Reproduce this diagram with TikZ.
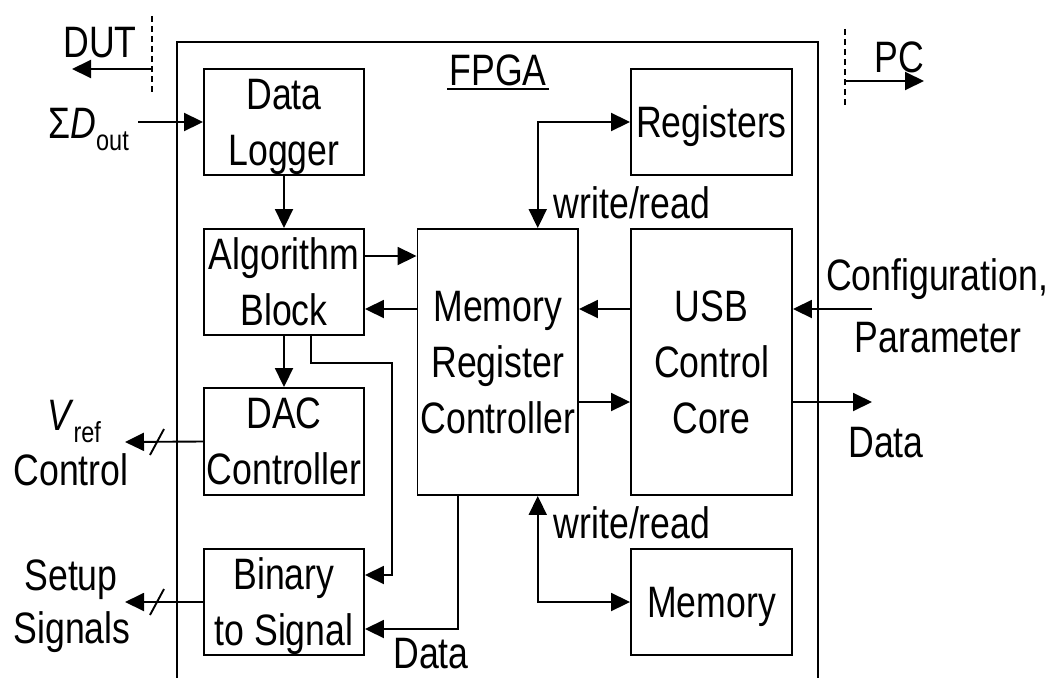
\documentclass[tikz,border=0pt]{standalone}
\usepackage{fontspec}
\setmainfont{Liberation Sans}[FakeStretch=0.81]
\usetikzlibrary{arrows.meta,calc}
\begin{document}
\begin{tikzpicture}[x=1pt,y=-1pt,
  box/.style={draw, line width=1.9pt, inner sep=0pt, align=center, text depth=0pt,
    minimum width=160pt, minimum height=106pt, font=\fontsize{44}{56}\selectfont},
  lbl/.style={inner sep=0pt, font=\fontsize{44}{56}\selectfont},
  wire/.style={line width=1.9pt},
  arr/.style={line width=1.9pt, -{Triangle[length=19pt,width=18pt]}},
  dbl/.style={line width=1.9pt, {Triangle[length=19pt,width=18pt]}-{Triangle[length=19pt,width=18pt]}},
  dashline/.style={line width=1.9pt, dash pattern=on 6pt off 4pt}]
\useasboundingbox (0,0) rectangle (1054,677);
% FPGA frame
\draw[wire] (177,690) -- (177,42) -- (818,42) -- (818,690);
\node[lbl, anchor=base] (fpga) at (498,85) {FPGA};
\draw[line width=1.5pt] ([xshift=-2pt,yshift=-4pt]fpga.base west) -- ([xshift=2pt,yshift=-4pt]fpga.base east);
% blocks
\node[box] (dl) at (284,122) {Data\\Logger};
\node[box] (ab) at (284,282) {Algorithm\\Block};
\node[box, minimum height=107pt] (dac) at (284,441.5) {DAC\\Controller};
\node[box] (b2s) at (284,602) {Binary\\to Signal};
\node[box, minimum width=160.5pt, minimum height=266pt] (mrc) at (497.75,362) {Memory\\Register\\Controller};
\node[box, minimum width=161pt, minimum height=266pt] (usb) at (711.5,362) {USB\\Control\\Core};
\node[box, minimum width=161pt] (reg) at (711.5,122) {Registers};
\node[box, minimum width=161pt] (mem) at (711.5,602) {Memory};
% outside labels
\node[lbl, anchor=base] (dut) at (100,58) {DUT};
\node[lbl, anchor=base] (pc) at (899,72) {PC};
\node[lbl, anchor=base east] (sd) at (129,138) {Σ\textit{D}\raisebox{-12pt}{\fontsize{29}{29}\selectfont out}};
\node[lbl, anchor=base] (vref) at (74,430) {\textit{V}\raisebox{-12pt}{\fontsize{29}{29}\selectfont ref}};
\node[lbl, anchor=base] (ctl) at (71,485) {Control};
\node[lbl, anchor=base] (setup) at (71,590) {Setup};
\node[lbl, anchor=base] (signals) at (72,643) {Signals};
\node[lbl, anchor=base] (config) at (937,290) {Configuration,};
\node[lbl, anchor=base] (param) at (938,352) {Parameter};
\node[lbl, anchor=base] (dataout) at (886,457) {Data};
\node[lbl, anchor=base] (databot) at (431,668) {Data};
\node[lbl, anchor=base] (wr1) at (632,218) {write/read};
\node[lbl, anchor=base] (wr2) at (632,538) {write/read};
% boundary markers
\coordinate (dutA) at (152,16); \coordinate (dutB) at (152,93);
\coordinate (dutsrc) at (152,69); \coordinate (duttip) at (72,69);
\draw[dashline] (dutA) -- (dutB);
\draw[arr] (dutsrc) -- (duttip);
\coordinate (pcA) at (845,29); \coordinate (pcB) at (845,105);
\coordinate (pcsrc) at (845,81); \coordinate (pctip) at (924,81);
\draw[dashline] (pcA) -- (pcB);
\draw[arr] (pcsrc) -- (pctip);
% inputs/outputs
\coordinate (sdend) at (138,122);
\draw[arr] (sdend) -- (dl.west);
\coordinate (vtip) at (125,442);
\draw[arr] (dac.west) -- (vtip);
\draw[wire] ($(vtip)+(25,13)$) -- ++(14,-26);
\coordinate (stip) at (125,602);
\draw[arr] (b2s.west) -- (stip);
\draw[wire] ($(stip)+(25,13)$) -- ++(14,-26);
\coordinate (cfg) at (872,309);
\coordinate (dtip) at (872,402);
\draw[arr] (cfg) -- (cfg -| usb.east);
\draw[arr] (dtip -| usb.east) -- (dtip);
% internal connectors
\draw[arr] (dl.south) -- (ab.north);
\draw[arr] (ab.south) -- (dac.north);
\draw[arr] ([yshift=26pt]ab.east) -- ([yshift=26pt]ab.east -| mrc.west);
\draw[arr] (cfg -| mrc.west) -- (cfg -| ab.east);
\draw[arr] (cfg -| usb.west) -- (cfg -| mrc.east);
\draw[arr] (dtip -| mrc.east) -- (dtip -| usb.west);
\draw[arr] ([xshift=27pt]ab.south) -- ++(0,27) -| ([xshift=27pt,yshift=27pt]b2s.east) -- ([yshift=27pt]b2s.east);
\draw[arr] ([xshift=-40pt]mrc.south) |- ([yshift=-27pt]b2s.east);
\draw[dbl] (reg.west) -| ([xshift=40pt]mrc.north);
\draw[dbl] (mem.west) -| ([xshift=40pt]mrc.south);
\end{tikzpicture}
\end{document}
